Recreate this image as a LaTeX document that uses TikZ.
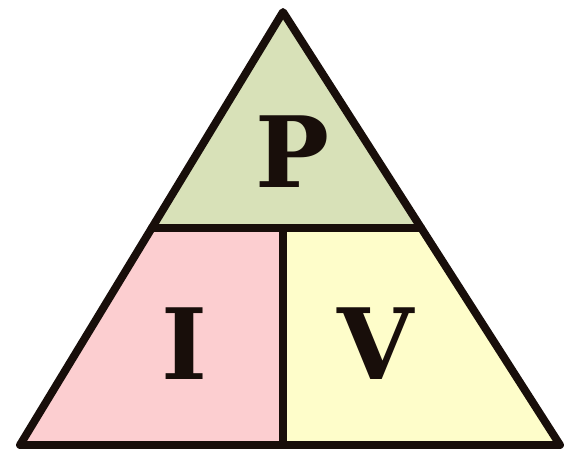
\documentclass[tikz,border=0pt]{standalone}
\usepackage{fontspec}
\setmainfont{DejaVu Serif}
\usetikzlibrary{calc}
\usepackage{tkz-euclide}
\definecolor{PowClr}{RGB}{216,225,184}
\definecolor{CurClr}{RGB}{252,206,208}
\definecolor{VoltClr}{RGB}{254,253,202}
\definecolor{InkClr}{RGB}{24,14,10}
\tikzset{letter/.style={inner sep=0pt,text=InkClr,font=\bfseries\fontsize{56}{56}\selectfont}}

\begin{document}
\begin{tikzpicture}[line join=miter]
\useasboundingbox (0,0) rectangle (11.54,9.06);
\tkzSetUpLine[line width=4.5pt,color=InkClr]

\tkzDefPoints{5.66/8.82/A,0.40/0.16/B,11.20/0.16/C}
\tkzDefPoints{0/4.50/H1,11.54/4.50/H2}
\tkzDefPoints{5.66/4.50/M,5.66/0.16/D}
\tkzInterLL(A,B)(H1,H2) \tkzGetPoint{L}
\tkzInterLL(A,C)(H1,H2) \tkzGetPoint{R}

\tkzFillPolygon[fill=PowClr](A,L,R)
\tkzFillPolygon[fill=CurClr](L,M,D,B)
\tkzFillPolygon[fill=VoltClr](M,R,C,D)

\tkzDrawSegments(L,R M,D)
\tkzDrawPolygons(A,B,C)

\node[letter] (pow) at (5.84,6.02) {P};
\node[letter] (cur) at (3.70,2.18) {I};
\node[letter] (volt) at (7.52,2.18) {V};

\end{tikzpicture}
\end{document}
